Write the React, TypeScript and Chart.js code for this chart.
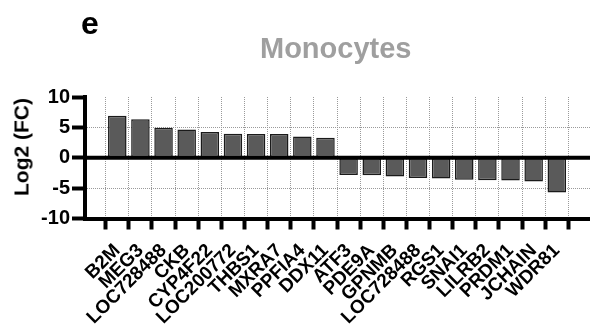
import React, { useEffect, useRef } from "react";
import { Chart, registerables } from "chart.js";

Chart.register(...registerables);

const categories = [
  "B2M", "MEG3", "LOC728488", "CKB", "CYP4F22", "LOC200772", "THBS1", "MXRA7", "PPFIA4", "DDX11",
  "ATF3", "PDE9A", "GPNMB", "LOC728488", "RGS1", "SNAI1", "LILRB2", "PRDM1", "JCHAIN", "WDR81",
];
const log2FC = [
  6.93, 6.32, 4.95, 4.67, 4.24, 3.96, 3.9, 3.9, 3.5, 3.3,
  -2.86, -2.9, -3.08, -3.35, -3.4, -3.63, -3.7, -3.74, -3.9, -5.7,
];
const yTicks = [-10, -5, 0, 5, 10];
const yDottedAt = [-5, 5];

const FONT = "'Liberation Sans', Arial, Helvetica, sans-serif";

const zeroLine = {
  id: "zeroLine",
  afterDatasetsDraw(chart: any) {
    const { ctx, chartArea, scales } = chart;
    const y = scales.y.getPixelForValue(0);
    ctx.save();
    ctx.strokeStyle = "#000";
    ctx.lineWidth = 4;
    ctx.beginPath();
    ctx.moveTo(chartArea.left - 2, y);
    ctx.lineTo(chartArea.right, y);
    ctx.stroke();
    ctx.restore();
  },
};

export default function App() {
  const ref = useRef<HTMLCanvasElement | null>(null);

  useEffect(() => {
    if (!ref.current) return;
    const chart = new Chart(ref.current, {
      type: "bar",
      data: {
        datasets: [
          {
            data: log2FC.map((v, i) => ({ x: i, y: v })),
            backgroundColor: "#5a5a5a",
            borderColor: "#1a1a1a",
            borderWidth: 1.5,
            borderSkipped: false,
            categoryPercentage: 1,
            barPercentage: 0.8,
          },
        ],
      },
      options: {
        animation: false,
        responsive: false,
        devicePixelRatio: 1,
        layout: { padding: { top: 97, right: 0, bottom: 0, left: 0 } },
        plugins: { legend: { display: false }, tooltip: { enabled: false }, title: { display: false } },
        scales: {
          x: {
            type: "linear",
            min: -0.85,
            max: 19.89,
            afterFit: (s: any) => { s.height = 110.5; },
            afterBuildTicks: (s: any) => { s.ticks = categories.map((_, i) => ({ value: i })); },
            grid: {
              color: "#9a9a9a",
              lineWidth: 1,
              drawTicks: true,
              tickLength: 11,
              tickWidth: 4,
              tickColor: "#000",
              tickBorderDash: [],
            },
            border: { display: true, color: "#000", width: 4, dash: [1, 1] },
            ticks: {
              autoSkip: false,
              minRotation: 45,
              maxRotation: 45,
              padding: 10,
              color: "#000",
              font: { family: FONT, size: 19, weight: "bold" },
              callback: (v: any) => categories[Math.round(Number(v))] ?? "",
            },
          },
          y: {
            min: -10,
            max: 10,
            afterFit: (s: any) => { s.width = 85; },
            afterBuildTicks: (s: any) => { s.ticks = yTicks.map((v) => ({ value: v })); },
            grid: {
              color: (c: any) => (yDottedAt.includes(c.tick?.value) ? "#9a9a9a" : "rgba(0,0,0,0)"),
              lineWidth: 1,
              drawTicks: true,
              tickLength: 13,
              tickWidth: 4,
              tickColor: "#000",
              tickBorderDash: [],
            },
            border: { display: true, color: "#000", width: 4, dash: [1, 1] },
            ticks: {
              padding: 2,
              color: "#000",
              font: { family: FONT, size: 20, weight: "bold" },
            },
          },
        },
      },
      plugins: [zeroLine],
    } as any);
    return () => chart.destroy();
  }, []);

  return (
    <div style={{ position: "absolute", left: 0, top: 0, width: 590, height: 329, background: "#fff", fontFamily: FONT }}>
      <canvas ref={ref} width={590} height={329} style={{ width: 590, height: 329, display: "block" }} />
      <div style={{ position: "absolute", left: 81, top: 7, fontSize: 32, lineHeight: "32px", fontWeight: "bold", color: "#000" }}>e</div>
      <div style={{ position: "absolute", left: 260, top: 34, fontSize: 29, lineHeight: "28px", fontWeight: "bold", color: "#9f9f9f", whiteSpace: "nowrap" }}>Monocytes</div>
      <div
        style={{
          position: "absolute",
          left: 21,
          top: 147,
          transform: "translate(-50%, -50%) rotate(-90deg)",
          fontSize: 21,
          lineHeight: "21px",
          fontWeight: "bold",
          color: "#000",
          whiteSpace: "nowrap",
        }}
      >
        Log2 (FC)
      </div>
    </div>
  );
}
